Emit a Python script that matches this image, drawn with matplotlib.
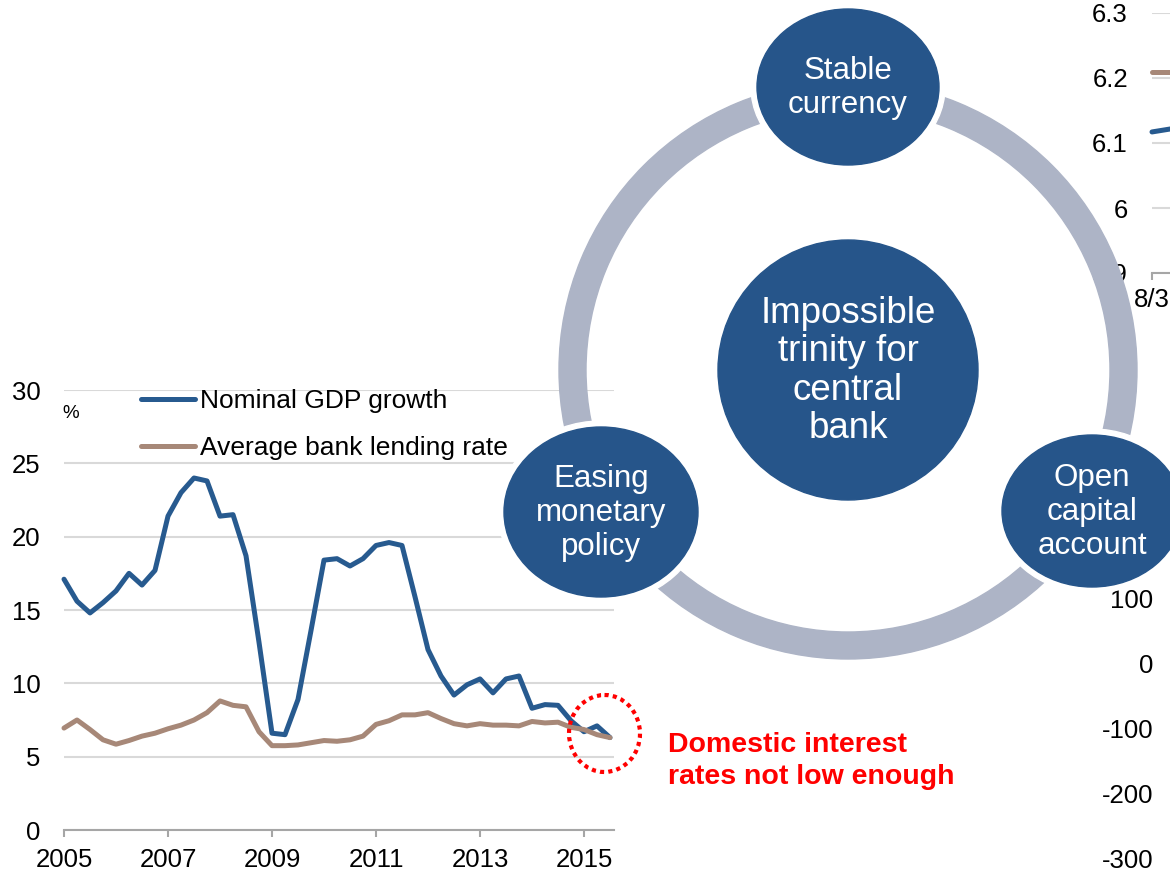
import matplotlib.pyplot as plt
from matplotlib.patches import Ellipse, Annulus

plt.rcParams['font.family'] = ['Liberation Sans', 'DejaVu Sans']
plt.rcParams['axes.unicode_minus'] = False

# Left chart: quarterly, 2005Q1 .. 2015Q3, %
gdp_growth = [17.1, 15.6, 14.8, 15.5,
              16.3, 17.5, 16.7, 17.7,
              21.4, 23.0, 24.0, 23.8,
              21.4, 21.5, 18.7, 12.8,
              6.6, 6.5, 8.9, 13.6,
              18.4, 18.5, 18.0, 18.5,
              19.4, 19.6, 19.4, 15.9,
              12.3, 10.5, 9.2, 9.9,
              10.3, 9.35, 10.3, 10.5,
              8.3, 8.55, 8.5, 7.45,
              6.7, 7.1, 6.3]
lending_rate = [6.95, 7.5, 6.85, 6.15,
                5.85, 6.1, 6.4, 6.6,
                6.9, 7.15, 7.5, 8.0,
                8.8, 8.5, 8.4, 6.7,
                5.75, 5.75, 5.8, 5.95,
                6.1, 6.05, 6.15, 6.4,
                7.2, 7.45, 7.85, 7.85,
                8.0, 7.6, 7.25, 7.1,
                7.25, 7.15, 7.15, 7.1,
                7.4, 7.3, 7.35, 7.0,
                6.85, 6.5, 6.3]
series_names = ['Nominal GDP growth', 'Average bank lending rate']
year_ticks = [2005, 2007, 2009, 2011, 2013, 2015]
pct_ticks = [0, 5, 10, 15, 20, 25, 30]

# Top-right panel (cropped), only its start is visible
fx_days = ['8/3', '8/4']
fx_upper = [6.21, 6.21]
fx_lower = [6.117, 6.132]
fx_ticks = [5.9, 6.0, 6.1, 6.2, 6.3]
fx_tick_labels = ['5.9', '6', '6.1', '6.2', '6.3']

# Bottom-right panel (cropped), only axis labels visible
flow_ticks = [-300, -200, -100, 0, 100]

# Diagram text
hub_label = 'Impossible\ntrinity for\ncentral\nbank'
node_labels = ['Stable\ncurrency', 'Easing\nmonetary\npolicy',
               'Open\ncapital\naccount']
note = 'Domestic interest\nrates not low enough'

BLUE = '#275a8f'
BROWN = '#a78878'
CIRCLE = '#26558a'
RING = '#adb4c6'
GRID = '#d9d9d9'
AXIS = '#a6a6a6'

W, H = 1170, 875
fig = plt.figure(figsize=(W / 100, H / 100), dpi=100)


def px_box(left, top, right, bottom):
    """axes rect from pixel edges (origin top left)"""
    return [left / W, 1 - bottom / H, (right - left) / W, (bottom - top) / H]


## Left chart
ax = fig.add_axes(px_box(64, 390, 614, 830))
quarter_x = [2005 + q / 4 for q in range(len(gdp_growth))]
for vals, col, name in zip([gdp_growth, lending_rate], [BLUE, BROWN], series_names):
    ax.plot(quarter_x, vals, color=col, lw=3.6, label=name,
            solid_capstyle='round', solid_joinstyle='round', clip_on=False)
ax.set_xlim(2005, 2005 + 550 / 52)
ax.set_ylim(0, 30)
ax.set_xticks(year_ticks)
ax.set_yticks(pct_ticks)
ax.grid(axis='y', color=GRID, lw=1.5)
ax.set_axisbelow(True)
for s in ['left', 'top', 'right']:
    ax.spines[s].set_visible(False)
ax.spines['bottom'].set_color(AXIS)
ax.spines['bottom'].set_linewidth(1.5)
ax.tick_params(axis='y', length=0, pad=17, labelsize=18.5)
ax.tick_params(axis='x', length=5, width=1.5, color=AXIS, pad=8, labelsize=18.5)
ax.legend(loc='upper left', bbox_to_anchor=(141 / W, 1 - 389 / H),
          bbox_transform=fig.transFigure, frameon=False, fontsize=19,
          handlelength=2.05, handletextpad=0.2, labelspacing=0.88,
          borderpad=0, borderaxespad=0)
fig.text(71 / W, 1 - 413 / H, '%', fontsize=13.5, ha='center', va='center')

## Top-right panel, mostly off the canvas
axfx = fig.add_axes(px_box(1152, 13, 1452, 273))
for vals, col in zip([fx_upper, fx_lower], [BROWN, BLUE]):
    axfx.plot(range(len(vals)), vals, color=col, lw=3.6,
              solid_capstyle='round', clip_on=False)
axfx.set_xlim(0, 5)
axfx.set_ylim(5.9, 6.3)
axfx.set_yticks(fx_ticks, fx_tick_labels)
axfx.set_xticks(range(len(fx_days)), fx_days)
axfx.grid(axis='y', color=GRID, lw=1.5)
axfx.set_axisbelow(True)
for s in ['left', 'top', 'right']:
    axfx.spines[s].set_visible(False)
axfx.spines['bottom'].set_color(AXIS)
axfx.spines['bottom'].set_linewidth(1.5)
axfx.tick_params(axis='y', length=0, pad=17.3, labelsize=18.5)
axfx.tick_params(axis='x', length=5, width=1.5, color=AXIS, pad=6, labelsize=18.5)

## Bottom-right panel, only labels show
axfl = fig.add_axes(px_box(1170, 533, 1470, 859))
axfl.set_ylim(-300, 200)
axfl.set_yticks(flow_ticks)
axfl.set_xticks([])
for s in axfl.spines.values():
    s.set_visible(False)
axfl.tick_params(axis='y', length=0, pad=12.2, labelsize=18.5)

## Diagram overlay in pixel coords
ov = fig.add_axes([0, 0, 1, 1])
ov.set_xlim(0, W)
ov.set_ylim(H, 0)
ov.axis('off')

hub = (848, 370)
ov.add_patch(Annulus(hub, r=289, width=27, color=RING))
ov.add_patch(Ellipse(hub, 260, 260, color=CIRCLE))
ov.text(hub[0], hub[1] + 1, hub_label, color='white', fontsize=26.5,
        ha='center', va='center', linespacing=1.12)

# (x, y, rx, ry) of the three outer circles
nodes = [(848, 87, 91, 78), (601, 512, 97, 85), (1092, 511, 90, 76)]
for (x, y, rx, ry), lab in zip(nodes, node_labels):
    ov.add_patch(Ellipse((x, y), 2 * rx + 12, 2 * ry + 12, color='white'))
    ov.add_patch(Ellipse((x, y), 2 * rx, 2 * ry, color=CIRCLE))
    ov.text(x, y + 1, lab, color='white', fontsize=22.5, ha='center', va='center',
            linespacing=1.18)

# dotted ring around the latest readings
ov.add_patch(Ellipse((604.5, 733.5), 71, 77, fill=False, ec='red', lw=3,
                     ls=(0, (1, 1))))
ov.text(668, 761, note, color='red', fontsize=20.5, fontweight='bold',
        ha='left', va='center', linespacing=1.3)

fig.savefig('out.png', dpi=100)
